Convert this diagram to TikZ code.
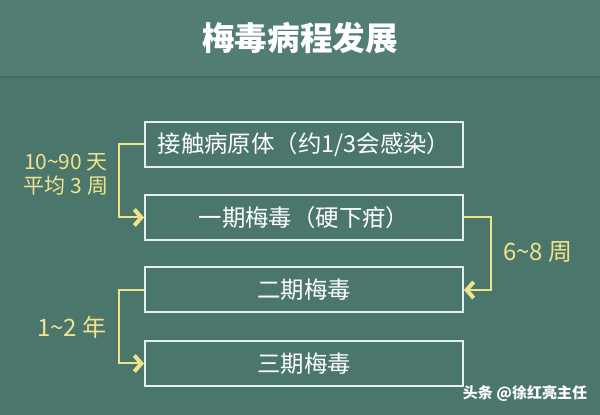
\documentclass[tikz,border=0pt]{standalone}
\usepackage{fontspec}
\setmainfont{Noto Sans CJK SC}
\usepackage{tikz}
\usetikzlibrary{arrows.meta,positioning}
\definecolor{boardBar}{HTML}{517D74}
\definecolor{boardBody}{HTML}{4A766C}
\definecolor{boardEdge}{HTML}{42685F}
\definecolor{chalkLine}{HTML}{E4F2EF}
\definecolor{chalkYellow}{HTML}{F1E38C}

\tikzset{
  stage/.style={draw=chalkLine, line width=1pt, minimum width=159pt, minimum height=22.5pt,
                text=white, font=\fontsize{11.7}{14}\selectfont, inner sep=0pt},
  conn/.style={draw=chalkYellow, line width=1pt,
               -{Straight Barb[length=3.5pt,width=8pt,line width=2pt]}},
  span/.style={text=chalkYellow, font=\fontsize{12}{14}\selectfont, align=center}
}

\begin{document}
\begin{tikzpicture}[x=0.5pt, y=-0.5pt]
    % Board
    \useasboundingbox (0,0) rectangle (600,415);
    \fill[boardBody] (0,0) rectangle (600,415);
    \fill[boardBar] (0,0) rectangle (600,76);
    \fill[boardEdge] (0,76) rectangle (600,78.5);
    \node[text=white, font=\fontsize{16.3}{18}\selectfont\bfseries] (title) at (300,38) {梅毒病程发展};

% Stages
    \node[stage] (contact) at (304,144.5) {接触病原体（约1/3会感染）};
    \node[stage] (first) at (304,217.5) {一期梅毒（硬下疳）};
    \node[stage] (second) at (304,290) {二期梅毒};
    \node[stage] (third) at (304,363.5) {三期梅毒};

% Durations
    \draw[conn] (contact.west) -- ++(-25,0) |- (first.west);
    \node[span, font=\fontsize{10.5}{12}\selectfont] (incub) at (66,174) {10\textasciitilde90 天\\平均 3 周};
    \draw[conn] (first.east) -- ++(27,0) |- (second.east);
    \node[span] (weeks) at (538,252) {6\textasciitilde8 周};
    \draw[conn] (second.west) -- ++(-25,0) |- (third.west);
    \node[span] (years) at (72,327) {1\textasciitilde2 年};

    % Watermark
    \node[text=white, font=\fontsize{7.5}{9}\selectfont\bfseries] (mark) at (525,393) {头条 @徐红亮主任};
\end{tikzpicture}
\end{document}
